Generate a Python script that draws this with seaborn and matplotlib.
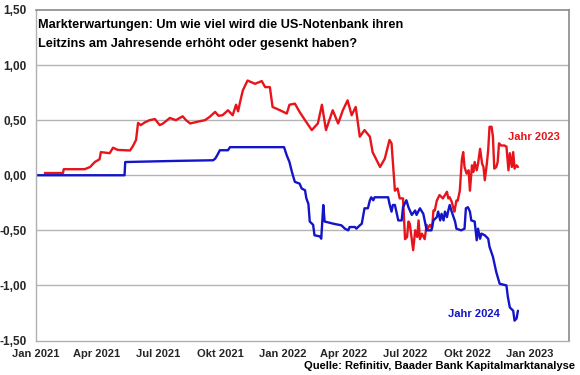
import matplotlib
matplotlib.use("Agg")
import matplotlib.pyplot as plt
import matplotlib.ticker as mticker
import pandas as pd
import seaborn as sns

# ---------------- data ----------------
dates_2023 = [
    "2021-01-14", "2021-02-10", "2021-02-11", "2021-03-14", "2021-03-22", "2021-03-29",
    "2021-04-05", "2021-04-07", "2021-04-20", "2021-04-25", "2021-05-02", "2021-05-20",
    "2021-05-24", "2021-05-29", "2021-06-01", "2021-06-05", "2021-06-11", "2021-06-18",
    "2021-06-26", "2021-07-03", "2021-07-08", "2021-07-18", "2021-07-27", "2021-08-06",
    "2021-08-11", "2021-08-17", "2021-08-24", "2021-08-31", "2021-09-08", "2021-09-15",
    "2021-09-23", "2021-09-28", "2021-10-04", "2021-10-12", "2021-10-19", "2021-10-24",
    "2021-10-27", "2021-10-30", "2021-11-03", "2021-11-10", "2021-11-21", "2021-12-01",
    "2021-12-06", "2021-12-13", "2021-12-17", "2021-12-28", "2022-01-07", "2022-01-11",
    "2022-01-19", "2022-01-26", "2022-02-03", "2022-02-13", "2022-02-22", "2022-02-28",
    "2022-03-06", "2022-03-16", "2022-03-24", "2022-03-31", "2022-04-07", "2022-04-13",
    "2022-04-19", "2022-04-25", "2022-05-02", "2022-05-10", "2022-05-14", "2022-05-25",
    "2022-06-01", "2022-06-08", "2022-06-11", "2022-06-16", "2022-06-20", "2022-06-23",
    "2022-06-28", "2022-07-01", "2022-07-04", "2022-07-06", "2022-07-08", "2022-07-13",
    "2022-07-16", "2022-07-19", "2022-07-21", "2022-07-23", "2022-07-26", "2022-07-30",
    "2022-08-02", "2022-08-04", "2022-08-07", "2022-08-10", "2022-08-12", "2022-08-14",
    "2022-08-17", "2022-08-21", "2022-08-26", "2022-09-01", "2022-09-03", "2022-09-05",
    "2022-09-08", "2022-09-10", "2022-09-12", "2022-09-15", "2022-09-17", "2022-09-20",
    "2022-09-23", "2022-09-25", "2022-09-27", "2022-09-30", "2022-10-03", "2022-10-05",
    "2022-10-08", "2022-10-10", "2022-10-12", "2022-10-15", "2022-10-17", "2022-10-20",
    "2022-10-23", "2022-10-25", "2022-10-27", "2022-10-30", "2022-11-01", "2022-11-03",
    "2022-11-06", "2022-11-08", "2022-11-10", "2022-11-13", "2022-11-15", "2022-11-17",
    "2022-11-20", "2022-11-25", "2022-11-28", "2022-12-01", "2022-12-03", "2022-12-06",
    "2022-12-08", "2022-12-10", "2022-12-13", "2022-12-15",
]
values_2023 = [
    0.02, 0.02, 0.055, 0.055, 0.075, 0.12,
    0.145, 0.21, 0.20, 0.25, 0.23, 0.225,
    0.26, 0.32, 0.475, 0.455, 0.48, 0.50,
    0.51, 0.455, 0.47, 0.52, 0.50, 0.535,
    0.50, 0.47, 0.48, 0.49, 0.50, 0.53,
    0.575, 0.54, 0.545, 0.59, 0.545, 0.64,
    0.58, 0.667, 0.77, 0.86, 0.83, 0.855,
    0.80, 0.80, 0.62, 0.59, 0.56, 0.64,
    0.65, 0.575, 0.50, 0.41, 0.47, 0.64,
    0.41, 0.59, 0.47, 0.59, 0.68, 0.545,
    0.62, 0.35, 0.41, 0.35, 0.21, 0.075,
    0.15, 0.32, 0.29, -0.14, -0.12, -0.21,
    -0.21, -0.58, -0.56, -0.42, -0.44, -0.68,
    -0.50, -0.56, -0.41, -0.58, -0.53, -0.58,
    -0.45, -0.48, -0.45, -0.48, -0.32, -0.32,
    -0.23, -0.18, -0.21, -0.15, -0.21, -0.20,
    -0.24, -0.29, -0.33, -0.23, -0.23, -0.14,
    0.14, 0.21, 0.075, 0.015, 0.045, -0.14,
    0.09, 0.03, 0.12, 0.045, 0.105, 0.24,
    0.105, 0.075, -0.045, 0.105, 0.23, 0.44,
    0.44, 0.35, 0.06, 0.075, 0.12, 0.29,
    0.27, 0.27, 0.26, 0.045, 0.20, 0.075,
    0.21, 0.06, 0.09, 0.075,
]

dates_2024 = [
    "2021-01-01", "2021-05-12", "2021-05-13", "2021-07-25", "2021-09-20", "2021-09-23",
    "2021-09-26", "2021-09-30", "2021-10-12", "2021-10-15", "2022-01-03", "2022-01-07",
    "2022-01-09", "2022-01-11", "2022-01-14", "2022-01-16", "2022-01-19", "2022-01-26",
    "2022-01-29", "2022-02-03", "2022-02-05", "2022-02-08", "2022-02-10", "2022-02-15",
    "2022-02-17", "2022-02-25", "2022-02-27", "2022-03-02", "2022-03-04", "2022-03-17",
    "2022-03-29", "2022-04-03", "2022-04-08", "2022-04-10", "2022-04-18", "2022-04-20",
    "2022-04-25", "2022-04-28", "2022-05-02", "2022-05-07", "2022-05-10", "2022-05-12",
    "2022-05-15", "2022-05-17", "2022-06-06", "2022-06-08", "2022-06-11", "2022-06-13",
    "2022-06-16", "2022-06-21", "2022-06-26", "2022-06-28", "2022-07-03", "2022-07-06",
    "2022-07-11", "2022-07-16", "2022-07-18", "2022-07-23", "2022-07-28", "2022-08-02",
    "2022-08-09", "2022-08-12", "2022-08-17", "2022-08-19", "2022-08-22", "2022-08-24",
    "2022-08-27", "2022-08-29", "2022-09-01", "2022-09-03", "2022-09-05", "2022-09-08",
    "2022-09-13", "2022-09-15", "2022-09-22", "2022-09-27", "2022-09-29", "2022-10-02",
    "2022-10-05", "2022-10-07", "2022-10-12", "2022-10-15", "2022-10-17", "2022-10-20",
    "2022-10-22", "2022-10-27", "2022-11-01", "2022-11-03", "2022-11-08", "2022-11-13",
    "2022-11-18", "2022-11-28", "2022-11-30", "2022-12-03", "2022-12-08", "2022-12-10",
    "2022-12-13", "2022-12-15",
]
values_2024 = [
    0.0, 0.0, 0.12, 0.13, 0.136, 0.15,
    0.18, 0.227, 0.227, 0.255, 0.255, 0.18,
    0.15, 0.12, 0.045, 0.0, -0.06, -0.076,
    -0.12, -0.136, -0.21, -0.26, -0.42, -0.45,
    -0.545, -0.555, -0.576, -0.27, -0.42, -0.44,
    -0.455, -0.485, -0.50, -0.47, -0.47, -0.485,
    -0.455, -0.44, -0.30, -0.30, -0.227, -0.20,
    -0.227, -0.20, -0.20, -0.26, -0.33, -0.27,
    -0.27, -0.41, -0.41, -0.29, -0.227, -0.29,
    -0.36, -0.32, -0.36, -0.30, -0.35, -0.50,
    -0.50, -0.41, -0.38, -0.33, -0.41, -0.35,
    -0.41, -0.33, -0.38, -0.32, -0.27, -0.33,
    -0.42, -0.485, -0.50, -0.485, -0.30, -0.29,
    -0.33, -0.41, -0.42, -0.59, -0.485, -0.576,
    -0.53, -0.545, -0.576, -0.65, -0.74, -0.88,
    -0.985, -1.0, -1.1, -1.2, -1.23, -1.32,
    -1.30, -1.23,
]

series_names = ["Jahr 2023", "Jahr 2024"]
series_colors = ["#e8141c", "#1414c8"]
y_ticks = [-1.5, -1.0, -0.5, 0.0, 0.5, 1.0, 1.5]
x_tick_dates = ["2021-01-01", "2021-04-01", "2021-07-01", "2021-10-01", "2022-01-01",
                "2022-04-01", "2022-07-01", "2022-10-01", "2023-01-01"]
x_tick_labels = ["Jan 2021", "Apr 2021", "Jul 2021", "Okt 2021", "Jan 2022",
                 "Apr 2022", "Jul 2022", "Okt 2022", "Jan 2023"]
title_text = ("Markterwartungen: Um wie viel wird die US-Notenbank ihren\n"
              "Leitzins am Jahresende erhöht oder gesenkt haben?")
source_text = "Quelle: Refinitiv, Baader Bank Kapitalmarktanalyse"

# ---------------- build frame ----------------
df = pd.concat([
    pd.DataFrame({"date": pd.to_datetime(dates_2023), "value": values_2023, "series": series_names[0]}),
    pd.DataFrame({"date": pd.to_datetime(dates_2024), "value": values_2024, "series": series_names[1]}),
], ignore_index=True)

sns.set_style("white")
plt.rcParams["font.family"] = ["Liberation Sans", "DejaVu Sans"]

fig = plt.figure(figsize=(5.8, 3.75), dpi=100)
ax = fig.add_axes([36 / 580, 1 - 340.5 / 375, (569.3 - 36) / 580, (340.5 - 10) / 375])

sns.lineplot(data=df, x="date", y="value", hue="series",
             palette=dict(zip(series_names, series_colors)),
             estimator=None, sort=False, legend=False, linewidth=1.7, ax=ax)

ax.set_xlim(pd.Timestamp("2021-01-01"), pd.Timestamp("2023-03-01"))
ax.set_ylim(-1.5, 1.5)
ax.set_yticks(y_ticks)
ax.yaxis.set_major_formatter(mticker.FuncFormatter(lambda v, p: f"{v:.2f}".replace(".", ",")))
ax.set_xticks(pd.to_datetime(x_tick_dates))
ax.set_xticklabels(x_tick_labels)
ax.set_xlabel("")
ax.set_ylabel("")

for y in y_ticks[1:-1]:
    ax.axhline(y, color="#b4b4b4", lw=1.0, zorder=0)

for s in ["left", "bottom"]:
    ax.spines[s].set_color("#b0b0b0")
    ax.spines[s].set_linewidth(1.0)
for s in ["top", "right"]:
    ax.spines[s].set_color("#8a8a8a")
    ax.spines[s].set_linewidth(1.2)

ax.tick_params(axis="both", direction="out", length=5, width=1, color="#b0b0b0",
               labelsize=8)
ax.tick_params(axis="y", pad=2, labelsize=8.5)
ax.tick_params(axis="x", pad=1)
for lab in ax.get_xticklabels() + ax.get_yticklabels():
    lab.set_fontweight("bold")

fig.text(38 / 580, 1 - 19 / 375, title_text, fontsize=9.2, fontweight="bold",
         ha="left", va="top", linespacing=1.75, color="black")
fig.text(575 / 580, 1 - 366 / 375, source_text, fontsize=8, fontweight="bold",
         ha="right", va="center", color="black")
fig.text(508 / 580, 1 - 137 / 375, series_names[0], fontsize=8, fontweight="bold",
         ha="left", va="center", color=series_colors[0])
fig.text(448 / 580, 1 - 314 / 375, series_names[1], fontsize=8, fontweight="bold",
         ha="left", va="center", color=series_colors[1])

fig.savefig("out.png", dpi=100)
